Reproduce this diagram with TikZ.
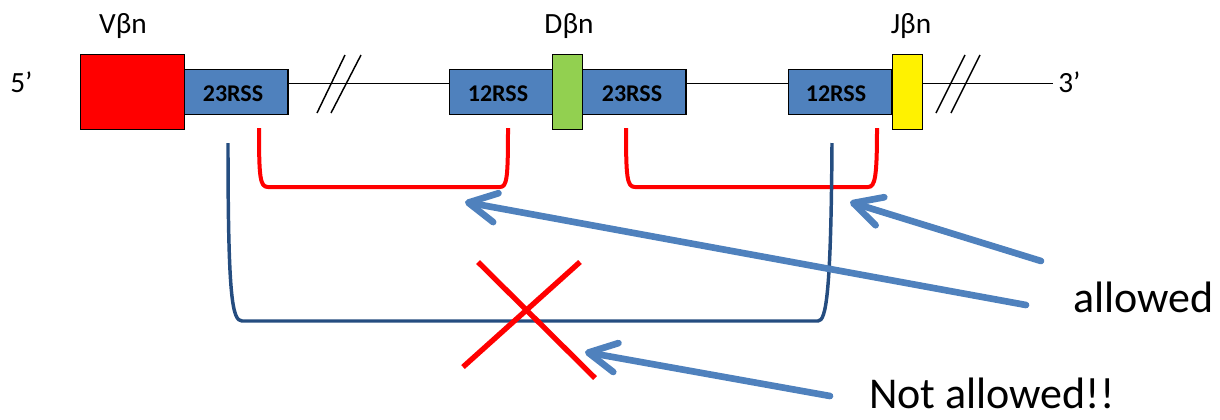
\documentclass[tikz,border=0pt]{standalone}
\usepackage{fontspec}
\setmainfont{Carlito}
\usetikzlibrary{arrows.meta}
\definecolor{rssblue}{HTML}{4F81BD}
\definecolor{dgreen}{HTML}{92D050}
\definecolor{navy}{HTML}{254D80}
\definecolor{arrowblue}{HTML}{4F81BD}
\tikzset{
  seg/.style={draw=black, line width=1.1pt, inner sep=0pt, anchor=north west},
  rssbox/.style={seg, fill=rssblue, minimum width=77.5pt, minimum height=33.75pt},
  rsslbl/.style={font=\fontsize{18}{20}\selectfont\bfseries, anchor=base},
  genelbl/.style={font=\fontsize{22}{24}\selectfont, anchor=base},
  endlbl/.style={font=\fontsize{22}{24}\selectfont, anchor=base west, inner sep=0pt},
  biglbl/.style={font=\fontsize{33}{36}\selectfont, anchor=base west, inner sep=0pt},
  redbracket/.style={draw=red, line width=3pt, line join=round},
  navybracket/.style={draw=navy, line width=2.6pt, line join=round},
  pointer/.style={draw=arrowblue, line width=5pt, line cap=round,
    -{Straight Barb[length=21pt, width=22pt, round]}},
  breakmark/.style={draw=black, line width=1.1pt},
}
\begin{document}
\begin{tikzpicture}[x=0.75pt, y=-0.75pt]
\useasboundingbox (0,0) rectangle (1220,419);

% DNA backbone
\coordinate (bbL) at (287,83.5);
\coordinate (bbR) at (1053,83.5);
\draw[line width=1.2pt] (bbL) -- (bbR);

% break marks
\draw[breakmark] (317,113) -- (345,55);
\draw[breakmark] (331,113) -- (361,55);
\draw[breakmark] (936,113) -- (965,55);
\draw[breakmark] (951,113) -- (980,55);

% gene segments and signal sequences
\node[seg, fill=red, minimum width=78pt, minimum height=56.25pt] (V) at (80,54) {};
\node[rssbox] (rssV) at (184,69) {};
\node[rssbox] (rssD1) at (449,69) {};
\node[rssbox] (rssD2) at (582,69) {};
\node[rssbox] (rssJ) at (788,69) {};
\node[seg, fill=dgreen, minimum width=22.5pt, minimum height=56.25pt] (D) at (552,54) {};
\node[seg, fill=yellow, minimum width=22.5pt, minimum height=56.25pt] (J) at (892,54) {};

\node[rsslbl] (tV) at (233,101.5) {23RSS};
\node[rsslbl] (tD1) at (498,101.5) {12RSS};
\node[rsslbl] (tD2) at (632,101.5) {23RSS};
\node[rsslbl] (tJ) at (836,101.5) {12RSS};

% labels
\node[genelbl] (lV) at (123,33) {Vβn};
\node[genelbl] (lD) at (569,33) {Dβn};
\node[genelbl] (lJ) at (911,33) {Jβn};
\node[endlbl] (five) at (10,92) {5’};
\node[endlbl] (three) at (1058,92) {3’};

% allowed pairings
\draw[redbracket] (259,128) .. controls (259,178) and (260,187) .. (268,187)
  -- (500,187) .. controls (507,187) and (508,178) .. (508,128);
\draw[redbracket] (626,128) .. controls (626,178) and (627,187) .. (635,187)
  -- (868,187) .. controls (875,187) and (877,178) .. (877,128);

% forbidden pairing
\draw[navybracket] (228,143) .. controls (228,295) and (232,321) .. (242,321)
  -- (818,321) .. controls (826,321) and (831,295) .. (832,143);

% cross
\draw[red, line width=4pt] (478,262) -- (595,378);
\draw[red, line width=4pt] (580,262) -- (463,367);

% captions
\node[biglbl] (ok) at (1073,312) {allowed};
\node[biglbl] (no) at (869,408) {Not allowed!!};

% pointers
\coordinate (p1s) at (1026,305);
\coordinate (p1e) at (465,202);
\coordinate (p2s) at (1041,261);
\coordinate (p2e) at (850,202);
\coordinate (p3s) at (830,396);
\coordinate (p3e) at (585,352);
\draw[pointer] (p1s) -- (p1e);
\draw[pointer] (p2s) -- (p2e);
\draw[pointer] (p3s) -- (p3e);
\end{tikzpicture}
\end{document}
